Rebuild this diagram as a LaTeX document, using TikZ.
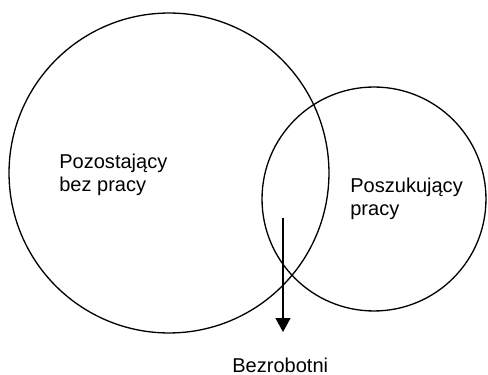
\documentclass[tikz,border=0pt]{standalone}
\usepackage{fontspec}
\setmainfont{Liberation Sans}
\usetikzlibrary{shapes, arrows.meta, positioning, calc}

\begin{document}
\begin{tikzpicture}[x=0.02cm, y=-0.02cm]
    \tikzstyle{set} = [circle, draw=black, line width=0.75pt, inner sep=0pt]
    \tikzstyle{label} = [anchor=north west, inner sep=0pt, align=left, font=\fontsize{11.4}{13.1}\selectfont]
    \tikzstyle{arrow} = [line width=0.75pt, -{Triangle[width=0.3cm, length=0.28cm]}]
    \useasboundingbox (0,0) rectangle (488,375);
    \node (bezpracy) [set, minimum size=6.4cm] at (169,173) {};
    \node (szukajacy) [set, minimum size=4.48cm] at (374,199) {};
    \node (lbezpracy) [label] at (59,154) {Pozostający\\bez pracy};
    \node (lszukajacy) [label] at (350,178) {Poszukujący\\pracy};
    \node (bezrobotni) [label, anchor=base west] at (232,373) {Bezrobotni};
    \coordinate (start) at (283,218);
    \coordinate (tip) at (283,332);
    \draw [arrow] (start) -- (tip);
\end{tikzpicture}
\end{document}
